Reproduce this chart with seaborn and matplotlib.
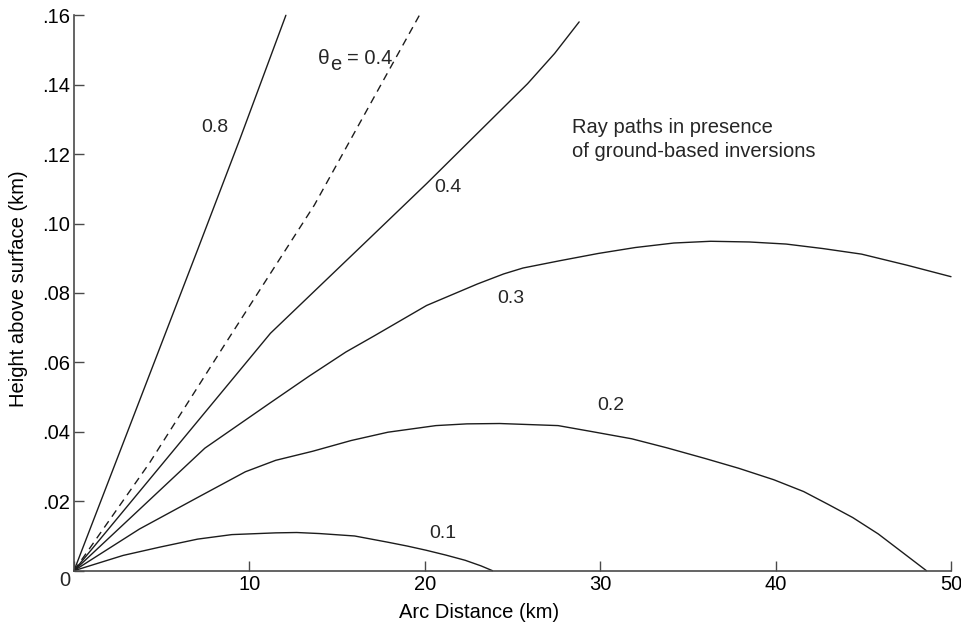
import matplotlib
matplotlib.use("Agg")
import matplotlib.pyplot as plt
import numpy as np
import pandas as pd
import seaborn as sns

# Ray paths (arc distance in km, height in km) labelled by elevation angle
ray_08_x = [0, 3.05, 7.05, 9.47, 12.08]
ray_08_y = [0, 0.040, 0.0925, 0.1245, 0.160]

ray_04_x = [0, 5.6, 11.2, 16.8, 20.1, 22.9, 25.86, 27.4, 28.8]
ray_04_y = [0, 0.0342, 0.0684, 0.0955, 0.1115, 0.1255, 0.1403, 0.1490, 0.1581]

ray_03_x = [0, 3.7, 7.46, 11.2, 13.42, 15.5, 17.1, 20.1, 23.0, 24.5, 25.6,
            27.7, 29.9, 32.0, 34.2, 36.3, 38.5, 40.6, 42.7, 44.9, 47.5, 50.0]
ray_03_y = [0, 0.0175, 0.0353, 0.0484, 0.0561, 0.0630, 0.0676, 0.0764, 0.0826,
            0.0855, 0.0872, 0.0893, 0.0914, 0.0931, 0.0944, 0.0949, 0.0947,
            0.0941, 0.0928, 0.0912, 0.0880, 0.0847]

ray_02_x = [0, 3.73, 7.05, 9.77, 11.5, 13.6, 15.8, 17.9, 20.63, 22.4, 24.27,
            27.6, 29.5, 31.8, 33.8, 36.0, 37.9, 39.9, 41.6, 43.0, 44.4, 45.85,
            47.2, 48.6]
ray_02_y = [0, 0.0120, 0.0211, 0.0285, 0.0318, 0.0344, 0.0375, 0.0399, 0.0418,
            0.0423, 0.0424, 0.0418, 0.0401, 0.0380, 0.0354, 0.0323, 0.0295,
            0.0262, 0.0228, 0.0191, 0.0153, 0.0106, 0.0054, 0.0]

ray_01_x = [0, 2.8, 4.9, 7.05, 9.0, 11.5, 12.7, 14.0, 16.0, 17.9, 19.0, 20.07,
            21.2, 22.3, 23.2, 23.86]
ray_01_y = [0, 0.0044, 0.0068, 0.0091, 0.0104, 0.0109, 0.0110, 0.0107, 0.0100,
            0.0082, 0.0071, 0.0059, 0.0045, 0.0030, 0.0014, 0.0]

# Standard-atmosphere path for theta_e = 0.4
std_04_x = [0, 4.3, 8.55, 13.7, 19.8]
std_04_y = [0, 0.031, 0.0648, 0.1053, 0.161]

ray_labels = ["0.8", "0.4", "0.3", "0.2", "0.1"]
x_ticks = [0, 10, 20, 30, 40, 50]
x_tick_labels = ["", "10", "20", "30", "40", "50"]
y_ticks = [0, 0.02, 0.04, 0.06, 0.08, 0.10, 0.12, 0.14, 0.16]
y_tick_labels = ["", ".02", ".04", ".06", ".08", ".10", ".12", ".14", ".16"]

rays = pd.concat([
    pd.DataFrame({"distance": xs, "height": ys, "ray": name})
    for name, xs, ys in zip(ray_labels,
                            [ray_08_x, ray_04_x, ray_03_x, ray_02_x, ray_01_x],
                            [ray_08_y, ray_04_y, ray_03_y, ray_02_y, ray_01_y])
], ignore_index=True)
standard = pd.DataFrame({"distance": std_04_x, "height": std_04_y})

sns.set_theme(style="ticks")
plt.rcParams["font.family"] = ["Liberation Sans", "DejaVu Sans"]

fig = plt.figure(figsize=(9.61, 6.23), dpi=100)
ax = fig.add_axes([74 / 961, 52.3 / 623, 877 / 961, 555.4 / 623])

ink = "#1c1c1c"
axis_grey = "#4a4a4a"

sns.lineplot(data=rays, x="distance", y="height", units="ray", estimator=None,
             sort=False, color=ink, linewidth=1.0, legend=False, ax=ax)
sns.lineplot(data=standard, x="distance", y="height", estimator=None,
             sort=False, color=ink, linewidth=1.0, legend=False, ax=ax,
             dashes=False, linestyle=(0, (5.5, 4.0)))
for line in ax.lines:
    line.set_clip_on(False)
    line.set_solid_joinstyle("round")

ax.set_xlim(0, 50)
ax.set_ylim(0, 0.16)
ax.set_xticks(x_ticks)
ax.set_xticklabels(x_tick_labels)
ax.set_yticks(y_ticks)
ax.set_yticklabels(y_tick_labels)
ax.tick_params(direction="in", length=7.5, width=1.0, color=axis_grey,
               labelsize=14.5, labelcolor="black", pad=3)

for side in ("top", "right"):
    ax.spines[side].set_visible(False)
for side in ("left", "bottom"):
    ax.spines[side].set_color(axis_grey)
    ax.spines[side].set_linewidth(1.2)

ax.set_xlabel("Arc Distance (km)", fontsize=14.5, color="black")
ax.set_ylabel("Height above surface (km)", fontsize=14.5, color="black")
ax.xaxis.set_label_coords(0.462, -0.059)
ax.yaxis.set_label_coords(-0.052, 0.507)

# shared origin label
ax.annotate("0", (0, 0), xytext=(-6.3, -7.0), textcoords="offset points",
            ha="center", va="center", fontsize=14.5, annotation_clip=False)

# ray labels
label_pos = {"0.8": (8.04, 0.1278), "0.4": (21.3, 0.1105), "0.3": (24.9, 0.0783),
             "0.2": (30.6, 0.0475), "0.1": (21.0, 0.0106)}
for name in ray_labels:
    lx, ly = label_pos[name]
    ax.text(lx, ly, name, ha="center", va="center", fontsize=14)

# theta_e label for the dashed path
tx, ty = 13.91, 0.146
ax.text(tx, ty, "θ", ha="left", va="baseline", fontsize=15)
ax.annotate("e", (tx, ty), xytext=(8.8, -4.2), textcoords="offset points",
            ha="left", va="baseline", fontsize=14.5)
ax.annotate("= 0.4", (tx, ty), xytext=(20.8, 0), textcoords="offset points",
            ha="left", va="baseline", fontsize=14.5)

note_lines = ["Ray paths in presence", "of ground-based inversions"]
for i, line in enumerate(note_lines):
    ax.text(28.4, 0.1261 - i * 0.00705, line, ha="left", va="baseline",
            fontsize=14.5)

fig.savefig("out.png", dpi=100)
